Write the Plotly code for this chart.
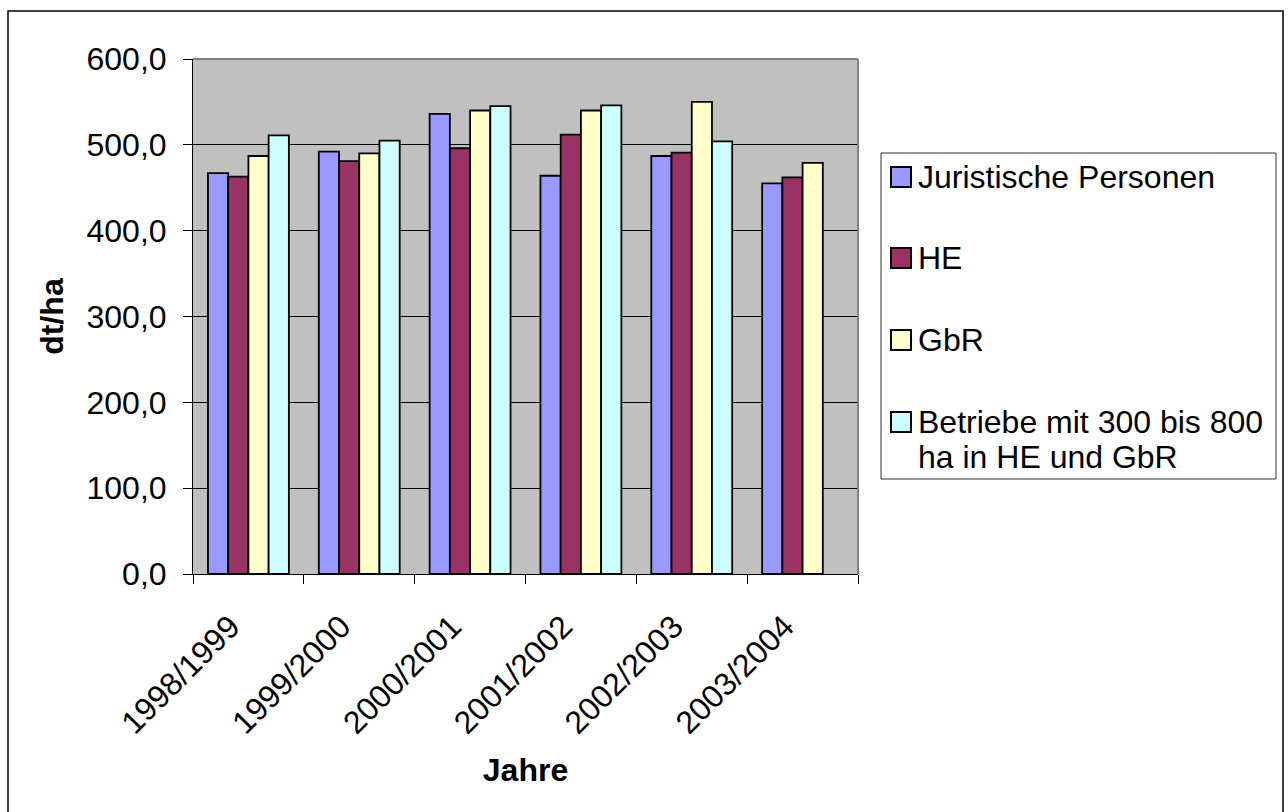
import plotly.graph_objects as go

jahre = ["1998/1999", "1999/2000", "2000/2001", "2001/2002", "2002/2003", "2003/2004"]

juristische_personen = [467, 492, 536, 464, 487, 455]
he = [463, 481, 496, 512, 491, 462]
gbr = [487, 490, 540, 540, 550, 479]
betriebe_300_800 = [511, 505, 545, 546, 504, None]

namen = ["Juristische Personen", "HE", "GbR", "Betriebe mit 300 bis 800 ha in HE und GbR"]
legend_zeilen = [["Juristische Personen"], ["HE"], ["GbR"], ["Betriebe mit 300 bis 800", "ha in HE und GbR"]]
farben = ["#9999FF", "#993366", "#FFFFCC", "#CCFFFF"]
werte = [juristische_personen, he, gbr, betriebe_300_800]

schrift = "Liberation Sans, Arial, sans-serif"

FW, FH = 1288, 812

# plot area in page pixels
L, T, R, B = 193, 59, 858, 574
W, H = R - L, B - T


def px_x(x):
    return (x - L) / W


def px_y(y):
    return (B - y) / H


fig = go.Figure()

for name, w, farbe in zip(namen, werte, farben):
    fig.add_trace(
        go.Bar(
            x=jahre,
            y=w,
            name=name,
            showlegend=False,
            marker=dict(color=farbe, line=dict(color="black", width=1.8)),
        )
    )

shapes = [
    # grey top/right border of the plot area
    dict(type="line", xref="paper", yref="paper", x0=0, x1=1, y0=1, y1=1,
         line=dict(color="#808080", width=2), layer="above"),
    dict(type="line", xref="paper", yref="paper", x0=1, x1=1, y0=0, y1=1,
         line=dict(color="#808080", width=2), layer="above"),
    # outer chart border
    dict(type="rect", xref="paper", yref="paper",
         x0=px_x(8), x1=px_x(1283), y0=px_y(830), y1=px_y(11),
         line=dict(color="black", width=1.5)),
    # legend box
    dict(type="rect", xref="paper", yref="paper",
         x0=px_x(881), x1=px_x(1276), y0=px_y(479), y1=px_y(153),
         line=dict(color="#333333", width=1), fillcolor="white"),
]
annotations = []

zeilen_y = [177, 258, 340, 422]
for zeilen, farbe, y in zip(legend_zeilen, farben, zeilen_y):
    shapes.append(
        dict(type="rect", xref="paper", yref="paper",
             x0=px_x(891), x1=px_x(911), y0=px_y(y + 10), y1=px_y(y - 10),
             line=dict(color="black", width=2), fillcolor=farbe)
    )
    for k, zeile in enumerate(zeilen):
        annotations.append(
            dict(text=zeile, xref="paper", yref="paper",
                 x=px_x(916), y=px_y(y + 35 * k), xanchor="left", yanchor="middle",
                 showarrow=False, font=dict(family=schrift, size=32, color="black"))
        )

fig.update_layout(
    width=FW,
    height=FH,
    margin=dict(l=L, r=FW - R, t=T, b=FH - B, pad=0),
    barmode="group",
    bargap=0.27,
    bargroupgap=0,
    separators=",.",
    paper_bgcolor="white",
    plot_bgcolor="#C0C0C0",
    font=dict(family=schrift, size=32, color="black"),
    showlegend=False,
    shapes=shapes,
    annotations=annotations,
)

fig.update_xaxes(
    type="category",
    tickangle=-45,
    ticks="outside",
    tickson="boundaries",
    ticklen=9,
    tickcolor="black",
    ticklabelstandoff=20,
    ticklabelshift=-18,
    showline=True,
    linecolor="black",
    linewidth=1,
    showgrid=False,
    title=dict(text="<b>Jahre</b>", font=dict(size=32), standoff=18),
    automargin=False,
)

fig.update_yaxes(
    range=[0, 600],
    dtick=100,
    tickformat=".1f",
    ticks="outside",
    ticklen=9,
    tickcolor="black",
    ticklabelstandoff=10,
    showline=True,
    linecolor="black",
    linewidth=1,
    showgrid=True,
    gridcolor="black",
    gridwidth=1,
    zeroline=False,
    title=dict(text="<b>dt/ha</b>", font=dict(size=32), standoff=13),
    automargin=False,
)

# drop the default 8px page margin so the figure fills the window
fig.write_html(
    "out.html",
    config={"displayModeBar": False},
    post_script="document.body.style.margin='0';document.body.style.overflow='hidden';",
)
